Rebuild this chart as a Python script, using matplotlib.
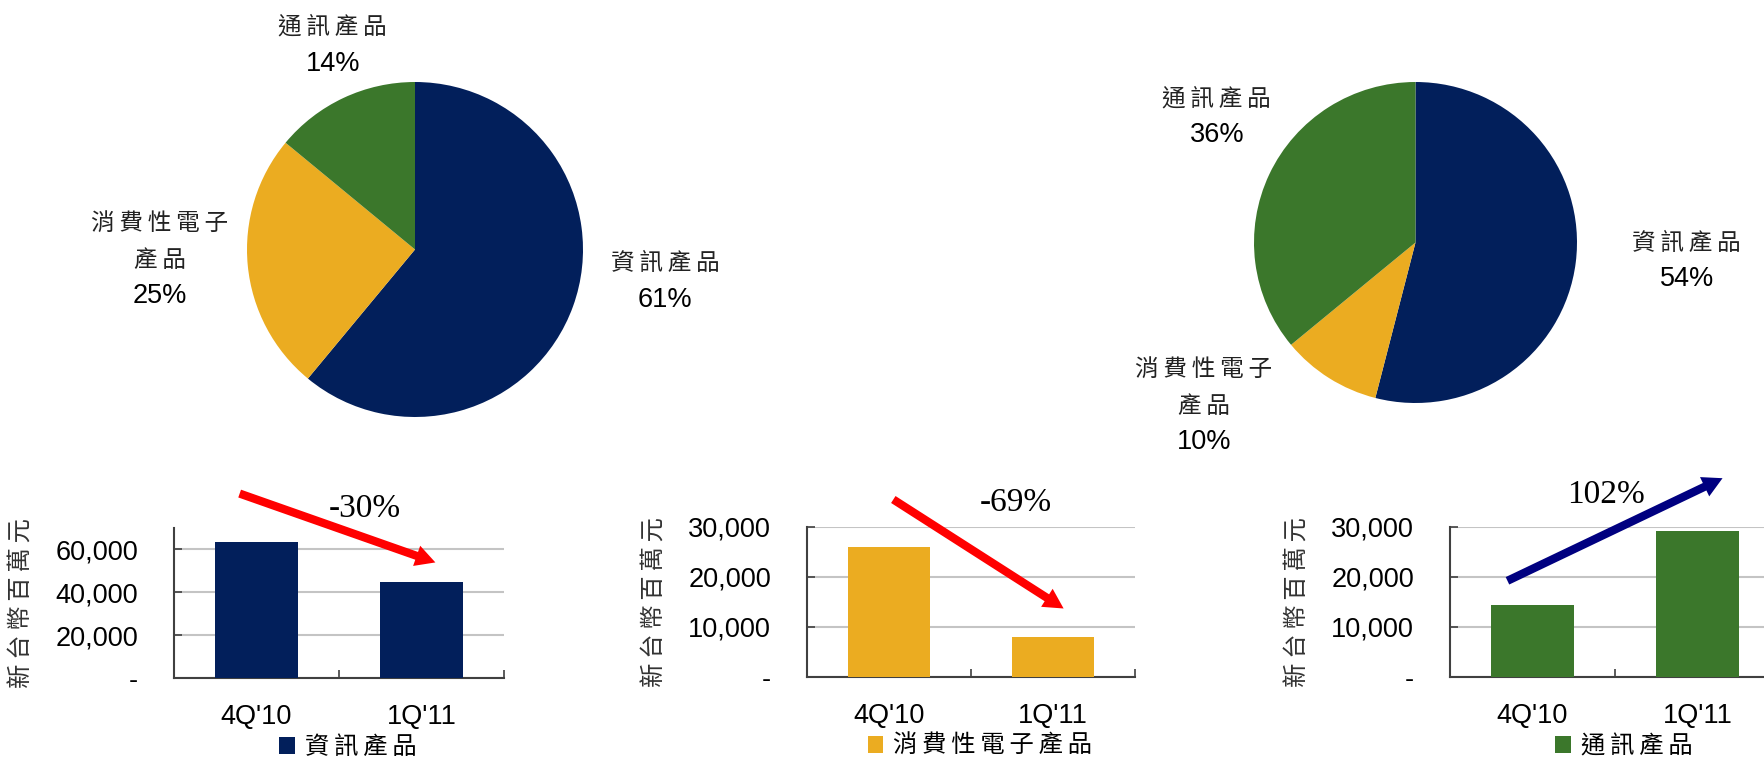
import matplotlib
matplotlib.use('Agg')
import matplotlib.pyplot as plt
from matplotlib.ticker import FuncFormatter
from matplotlib.font_manager import FontProperties

# data
segments = ['資訊產品', '消費性電子產品', '通訊產品']
share_4q10 = [61, 25, 14]
share_1q11 = [54, 10, 36]
quarters = ["4Q'10", "1Q'11"]
info_rev = [63700, 44600]
consumer_rev = [26000, 8000]
comm_rev = [14500, 29300]
changes = ['-30%', '-69%', '102%']

NAVY = '#021f5b'
GOLD = '#ebac21'
GREEN = '#3b772b'
colors = [NAVY, GOLD, GREEN]

CJK = ['Noto Sans CJK TC', 'DejaVu Sans']
NUM = 'Liberation Sans'
SERIF = 'Liberation Serif'
TS = '\u2009'


def spaced(s):
    return TS.join(s)


W, H = 1765, 764
fig = plt.figure(figsize=(W / 100, H / 100), dpi=100)


def px_axes(x0, y0, x1, y1):
    # pixel box (top-left origin) -> figure axes
    return fig.add_axes([x0 / W, (H - y1) / H, (x1 - x0) / W, (y1 - y0) / H])


def draw_pie(ax, shares, label_pos, radius_px):
    ax.pie(shares, colors=colors, startangle=90, counterclock=False,
           radius=1, wedgeprops=dict(linewidth=0))
    ax.set_aspect('auto')
    ax.set_xlim(-1, 1)
    ax.set_ylim(-1, 1)
    ax.axis('off')
    step = 36 / radius_px
    for name, val, (lx, ly) in zip(segments, shares, label_pos):
        if name == '消費性電子產品':
            lines = [spaced('消費性電子'), spaced('產品')]
        else:
            lines = [spaced(name)]
        n = len(lines)
        for i, ln in enumerate(lines):
            ax.text(lx, ly + (n - i) * step, ln, family=CJK, fontsize=17,
                    ha='center', va='center', color='#222222')
        ax.text(lx, ly, f'{val}%', family=NUM, fontsize=19.5,
                ha='center', va='center', color='black')


ax_p1 = px_axes(247, 82, 583, 417)
draw_pie(ax_p1, share_4q10, [(1.49, -0.30), (-1.52, -0.28), (-0.49, 1.11)], 167)

ax_p2 = px_axes(1254, 82, 1577, 403)
draw_pie(ax_p2, share_1q11, [(1.68, -0.23), (-1.31, -1.245), (-1.23, 0.67)], 161)


def fmt(v, pos):
    return '-' if v == 0 else f'{int(v):,}'


def draw_bar(ax, vals, color, label, ymax, ticks, arrow, txt, txt_xy, arrow_color):
    x = list(range(len(quarters)))
    ax.bar(x, vals, width=0.5, color=color, label=spaced(label), zorder=3)
    ax.set_xlim(-0.5, len(quarters) - 0.5)
    ax.set_ylim(0, ymax)
    ax.set_yticks(ticks)
    ax.yaxis.set_major_formatter(FuncFormatter(fmt))
    ax.yaxis.grid(True, color='#c4c4c4', lw=1.5, zorder=0)
    for s in ['top', 'right']:
        ax.spines[s].set_visible(False)
    for s in ['left', 'bottom']:
        ax.spines[s].set_color('#404040')
        ax.spines[s].set_linewidth(1.5)
    ax.tick_params(axis='y', direction='in', length=6, width=1.2, color='#404040', pad=26)
    ax.set_xticks(x)
    ax.set_xticklabels(quarters)
    ax.tick_params(axis='x', length=0, pad=19)
    ax.set_xticks([-0.5, 0.5, 1.5], minor=True)
    ax.tick_params(axis='x', which='minor', direction='in', length=6, width=1.2, color='#404040')
    for t in ax.get_xticklabels() + ax.get_yticklabels():
        t.set_family(NUM)
        t.set_fontsize(19.5)
    ax.set_ylabel(spaced('新台幣百萬元'), family=CJK, fontsize=17.5, color='#333333', labelpad=15)
    ax.legend(loc='center', bbox_to_anchor=(0.527, -0.46), frameon=False,
              prop=FontProperties(family=CJK, size=17.5), handlelength=0.65,
              handleheight=0.65, handletextpad=0.4, borderpad=0)
    ax.annotate('', xy=arrow[1], xytext=arrow[0], annotation_clip=False,
                arrowprops=dict(arrowstyle='simple,head_width=0.7,head_length=0.65,tail_width=0.27',
                                mutation_scale=22, color=arrow_color, lw=0))
    ax.text(txt_xy[0], txt_xy[1], txt, family=SERIF, fontsize=24,
            ha='center', va='center', clip_on=False)


ax1 = px_axes(174, 528, 504, 678)
draw_bar(ax1, info_rev, NAVY, segments[0], 70000, [0, 20000, 40000, 60000],
         [(-0.118, 86500), (1.100, 53500)], changes[0], (0.658, 79100), '#ff0000')

ax2 = px_axes(807, 527, 1135, 677)
draw_bar(ax2, consumer_rev, GOLD, segments[1], 30000, [0, 10000, 20000, 30000],
         [(0.012, 35800), (1.079, 13400)], changes[1], (0.774, 34800), '#ff0000')

ax3 = px_axes(1450, 527, 1780, 677)
draw_bar(ax3, comm_rev, GREEN, segments[2], 30000, [0, 10000, 20000, 30000],
         [(-0.167, 19000), (1.167, 40000)], changes[2], (0.445, 36400), '#000080')

fig.savefig('out.png', dpi=100)
